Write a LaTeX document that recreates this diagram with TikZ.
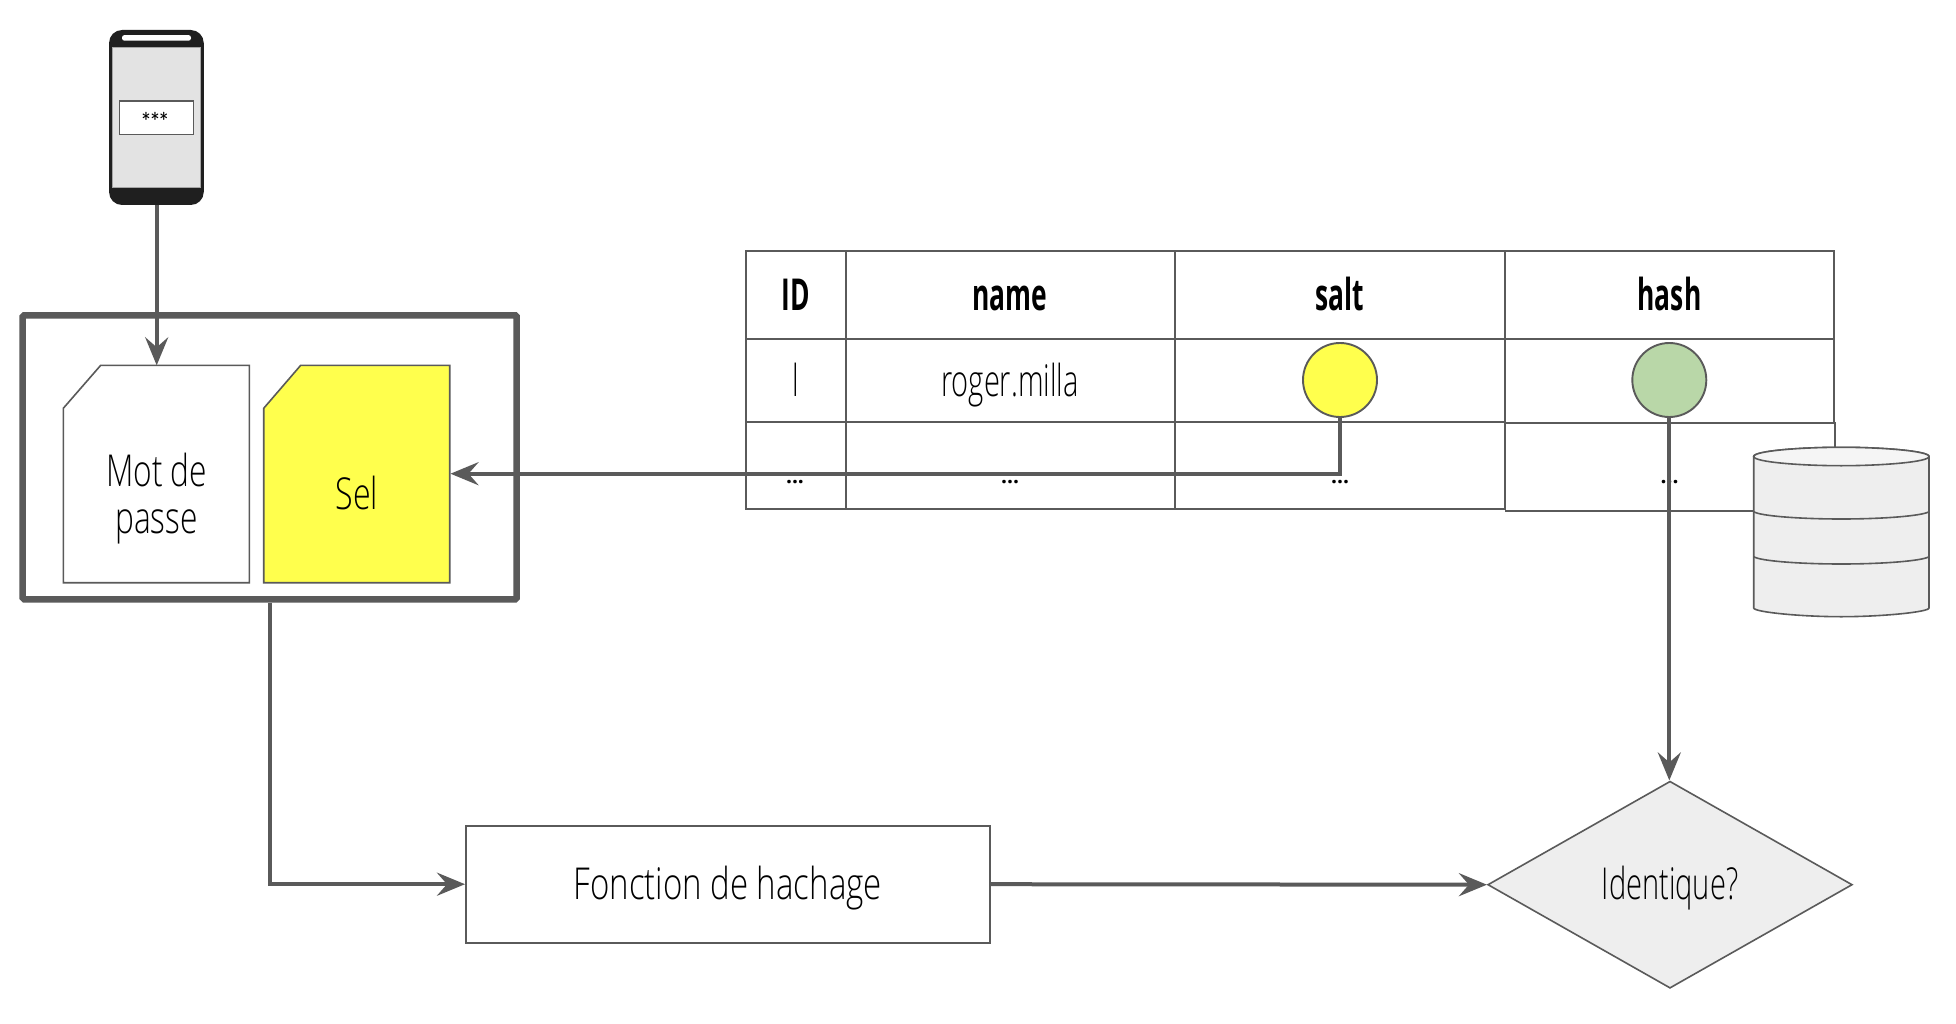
\documentclass[tikz,border=0pt]{standalone}
\usepackage{fontspec}
\usepackage{graphicx}
\setmainfont{Open Sans Light}
\usetikzlibrary{arrows.meta,shapes.geometric}
\definecolor{ln}{HTML}{5A5A5A}
\definecolor{yl}{HTML}{FFFF4D}
\definecolor{gr}{HTML}{B9D7A8}
\definecolor{lg}{HTML}{EEEEEE}
\newcommand{\hw}[2]{\scalebox{#1}[1.0]{#2}}
\newcommand{\hwb}[2]{\scalebox{#1}[1.0]{\fontspec{Open Sans}\bfseries #2}}
\tikzset{
 shape edge/.style={draw=ln,line width=1.6pt},
 conn/.style={draw=ln,line width=4pt,-{Stealth[length=28pt,width=23pt,inset=10pt]}},
 txt/.style={inner sep=0pt,anchor=base,font=\fontsize{44}{46}\selectfont,text=black},
 dots/.style={inner sep=0pt,anchor=base,font=\fontsize{21}{21}\selectfont\fontspec{Open Sans}\bfseries,text=black},
 cell/.style={draw=ln,line width=1.9pt},
}
\begin{document}
\begin{tikzpicture}[x=1pt,y=-1pt]
\useasboundingbox (0,0) rectangle (1956,1024);
\fill[white] (0,0) rectangle (1956,1024);
% phone
\node[rounded corners=13pt,fill=black!88,minimum width=94.7pt,minimum height=175pt,inner sep=0pt] (phone) at (156.4,117.5) {};
\node[fill=black!11,draw=black!35,line width=0.8pt,minimum width=88.7pt,minimum height=140pt,inner sep=0pt] (screen) at (156.4,117.7) {};
\node[fill=white,rounded corners=2.5pt,minimum width=69pt,minimum height=5.7pt,inner sep=0pt] (speaker) at (156.5,37.9) {};
\node[fill=white,draw=ln,line width=1.4pt,minimum width=74.4pt,minimum height=33.7pt,inner sep=0pt,font=\fontsize{19}{19}\selectfont\sffamily] (input) at (156.5,117.9) {\hspace{-3pt}\raisebox{-9pt}[0pt][0pt]{***}};
% outer box
\node[draw=ln,line width=6.5pt,rounded corners=1.5pt,minimum width=494pt,minimum height=284pt,inner sep=0pt] (outer) at (269.7,457.3) {};
% documents
\coordinate (mdptop) at (156.7,365.3);
\coordinate (selright) at (450.5,473.7);
\draw[shape edge,fill=white] (100.7,365.3) -- (249.3,365.3) -- (249.3,582.7) -- (63.3,582.7) -- (63.3,408.3) -- cycle;
\node[txt] (mot) at (156.7,486.7) {\hw{0.72}{Mot de}};
\node[txt] (passe) at (156.5,533) {\hw{0.72}{passe}};
\draw[shape edge,fill=yl] (300.7,365.3) -- (449.7,365.3) -- (449.7,582.7) -- (263.7,582.7) -- (263.7,408.3) -- cycle;
\node[txt] (sel) at (356.7,509) {\hw{0.73}{Sel}};
% table
\draw[cell] (746.3,251.3) rectangle (1834,338.7);
\draw[cell] (746.3,338.7) rectangle (1504.7,422);
\draw[cell] (1504.7,338.7) rectangle (1834,423);
\draw[cell] (746.3,422) rectangle (1504.7,509);
\draw[cell] (1505.5,423) rectangle (1834.7,510.7);
\draw[cell] (846,251.3) -- (846,509) (1175,251.3) -- (1175,509) (1504.7,251.3) -- (1504.7,509);
\node[txt] (hid) at (796,310.7) {\hwb{0.6}{ID}};
\node[txt] (hname) at (1010,310.7) {\hwb{0.6}{name}};
\node[txt] (hsalt) at (1340,310.7) {\hwb{0.6}{salt}};
\node[txt] (hhash) at (1669.5,310.7) {\hwb{0.6}{hash}};
\node[txt] (c1) at (796,396) {\hw{0.66}{l}};
\node[txt] (c2) at (1010,396) {\hw{0.66}{roger.milla}};
\node[dots] (d1) at (795,483) {...};
\node[dots] (d2) at (1010,483) {...};
\node[dots] (d3) at (1340,483) {...};
\node[dots] (d4) at (1669.5,483) {...};
\node[circle,draw=ln,line width=1.9pt,fill=yl,minimum size=74pt,inner sep=0pt] (salt) at (1340,380) {};
\node[circle,draw=ln,line width=1.9pt,fill=gr,minimum size=74pt,inner sep=0pt] (hash) at (1669.3,380) {};
% cylinder
\draw[shape edge,fill=lg] (1753.7,456.5) -- (1753.7,608) .. controls (1753.7,612) and (1800,616.7) .. (1841.3,616.7) .. controls (1882,616.7) and (1929,612) .. (1929,608) -- (1929,456.5) .. controls (1929,451) and (1882,447.3) .. (1841.3,447.3) .. controls (1800,447.3) and (1753.7,451) .. (1753.7,456.5) -- cycle;
\draw[shape edge,fill=black!4] (1753.7,456.5) .. controls (1753.7,451) and (1800,447.3) .. (1841.3,447.3) .. controls (1882,447.3) and (1929,451) .. (1929,456.5) .. controls (1929,462) and (1882,465.7) .. (1841.3,465.7) .. controls (1800,465.7) and (1753.7,462) .. (1753.7,456.5) -- cycle;
\draw[shape edge] (1753.7,511.7) .. controls (1760,516) and (1800,519) .. (1841.3,519) .. controls (1882,519) and (1922,516) .. (1929,511.7);
\draw[shape edge] (1753.7,556.7) .. controls (1760,561) and (1800,564) .. (1841.3,564) .. controls (1882,564) and (1922,561) .. (1929,556.7);
% hash box + diamond
\node[txt,anchor=center,shape edge,fill=white,minimum width=524pt,minimum height=117pt,text height=40pt,text depth=10.4pt] (fn) at (727.8,884.2) {\hw{0.75}{Fonction de hachage}};
\node[txt,anchor=center,diamond,aspect=1.76,shape edge,fill=lg,minimum width=364.6pt,minimum height=207pt,text height=40pt,text depth=11.4pt] (same) at (1670,884.7) {\hw{0.66}{Identique?}};
% connectors
\draw[conn] (phone.south -| mdptop) -- (mdptop);
\draw[conn] (salt.south) |- (selright);
\draw[conn] (hash.south) -- (hash.south |- same.north);
\draw[conn] (outer.south) |- (fn.west);
\draw[conn] (fn.east) -- (same.west);
\end{tikzpicture}
\end{document}
